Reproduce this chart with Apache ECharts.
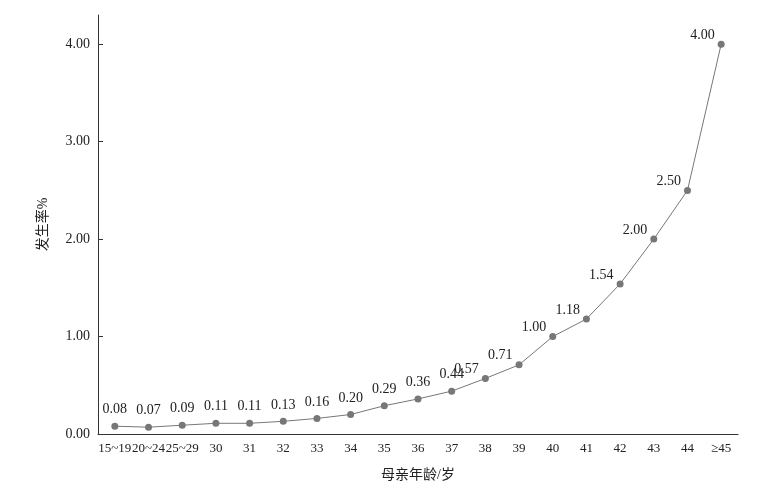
<!DOCTYPE html><html><head><meta charset="utf-8"><script src="https://cdn.jsdelivr.net/npm/echarts@6/dist/echarts.min.js"></script></head><body style="margin:0"><div id="c" style="width:783px;height:491px"></div><script>
const categories=['15~19','20~24','25~29','30','31','32','33','34','35','36','37','38','39','40','41','42','43','44','≥45'];
const values=[0.08,0.07,0.09,0.11,0.11,0.13,0.16,0.20,0.29,0.36,0.44,0.57,0.71,1.00,1.18,1.54,2.00,2.50,4.00];
const yTicks=['0.00','1.00','2.00','3.00','4.00'];
const font='Liberation Serif, Noto Sans CJK SC, serif';
const ch=echarts.init(document.getElementById('c'));
ch.setOption({animation:false,
grid:{left:98,right:45,top:15,bottom:57},
xAxis:{type:'category',data:categories,boundaryGap:true,name:'母亲年龄/岁',nameLocation:'middle',nameGap:34,nameTextStyle:{color:'#222',fontSize:14,fontFamily:font},
axisLine:{lineStyle:{color:'#333'}},axisTick:{inside:true,alignWithLabel:true,length:5,lineStyle:{color:'#333'}},axisLabel:{color:'#222',fontSize:13,fontFamily:font,interval:0}},
yAxis:{type:'value',min:0,max:4.3,interval:1,name:'发生率%',nameLocation:'middle',nameGap:48,nameTextStyle:{color:'#222',fontSize:14,fontFamily:font},
splitLine:{show:false},axisLine:{show:true,lineStyle:{color:'#333'}},axisTick:{show:true,inside:true,length:5,lineStyle:{color:'#333'}},
axisLabel:{color:'#222',fontSize:14,fontFamily:font,showMaxLabel:false,formatter:v=>yTicks[Math.round(v)]||''}},
series:[{type:'line',data:values.map((v,i)=>i>=11?{value:v,label:{position:'left',distance:3,offset:[0,-9]}}:{value:v}),symbol:'circle',symbolSize:7,itemStyle:{color:'#777'},lineStyle:{color:'#777',width:1},
label:{show:true,position:'top',distance:6,color:'#222',fontSize:14,fontFamily:font,formatter:p=>p.value.toFixed(2)}}]});
</script></body></html>
